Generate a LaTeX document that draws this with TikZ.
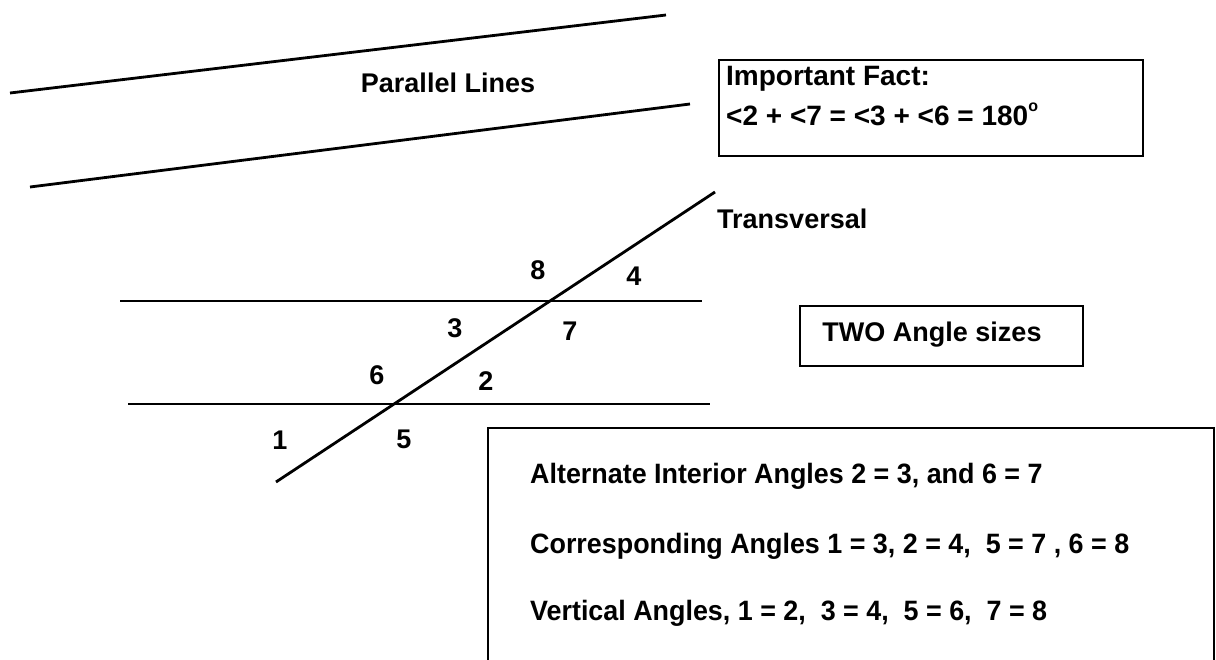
\documentclass[tikz,border=0pt]{standalone}
\usepackage{fontspec}
\setmainfont{Liberation Sans}
\begin{document}
\begin{tikzpicture}[x=1pt,y=-1pt,
  ln/.style={line width=2.8pt,black},
  bx/.style={draw,line width=2.2pt,inner sep=0pt},
  lbl/.style={font=\fontsize{27}{32}\selectfont\bfseries,inner sep=0pt},
  big/.style={font=\fontsize{28}{32}\selectfont\bfseries,inner sep=0pt},
  num/.style={font=\fontsize{27}{32}\selectfont\bfseries,inner sep=0pt}]
\useasboundingbox (0,0) rectangle (1216,660);
\clip (0,0) rectangle (1216,660);
% parallel lines at top
\coordinate (p1a) at (10,93);
\coordinate (p1b) at (666,15);
\coordinate (p2a) at (30,187);
\coordinate (p2b) at (690,104);
\draw[ln] (p1a) -- (p1b);
\draw[ln] (p2a) -- (p2b);
\node[lbl] (pl) at (448,83) {Parallel Lines};
% important fact box
\node[bx,minimum width=424pt,minimum height=96pt] (fact) at (931,108) {};
\node[big,anchor=west] (f1) at (726,79) {Important Fact:};
\node[big,anchor=west] (f2) at (726,114) {<2 + <7 = <3 + <6 = 180\raisebox{0.5em}{\fontsize{16}{18}\selectfont o}};
% transversal and horizontals
\coordinate (ta) at (276,482);
\coordinate (tb) at (715,192);
\coordinate (h1a) at (120,301);
\coordinate (h1b) at (702,301);
\coordinate (h2a) at (128,404);
\coordinate (h2b) at (710,404);
\draw[ln] (h1a) -- (h1b);
\draw[ln] (h2a) -- (h2b);
\draw[ln] (ta) -- (tb);
\node[lbl,anchor=west] (tr) at (717,219) {Transversal};
% angle numbers
\node[num] (n8) at (538,270) {8};
\node[num] (n4) at (634,276) {4};
\node[num] (n3) at (455,328) {3};
\node[num] (n7) at (570,331) {7};
\node[num] (n6) at (377,375) {6};
\node[num] (n2) at (486,381) {2};
\node[num] (n1) at (280,440) {1};
\node[num] (n5) at (404,439) {5};
% two angle sizes
\node[bx,minimum width=283pt,minimum height=60pt] (two) at (941.5,336) {};
\node[lbl] (twot) at (932,335) {TWO Angle sizes};
% big box
\draw[line width=2.2pt] (488,680) -- (488,428) -- (1214,428) -- (1214,680);
\node[big,anchor=west] (r1) at (530,476) {\scalebox{0.96}[1]{Alternate Interior Angles 2 = 3, and 6 = 7}};
\node[big,anchor=west] (r2) at (530,546) {\scalebox{0.96}[1]{Corresponding Angles 1 = 3, 2 = 4,\ \ 5 = 7 , 6 = 8}};
\node[big,anchor=west] (r3) at (530,613) {\scalebox{0.96}[1]{Vertical Angles, 1 = 2,\ \ 3 = 4,\ \ 5 = 6,\ \ 7 = 8}};
\end{tikzpicture}
\end{document}
